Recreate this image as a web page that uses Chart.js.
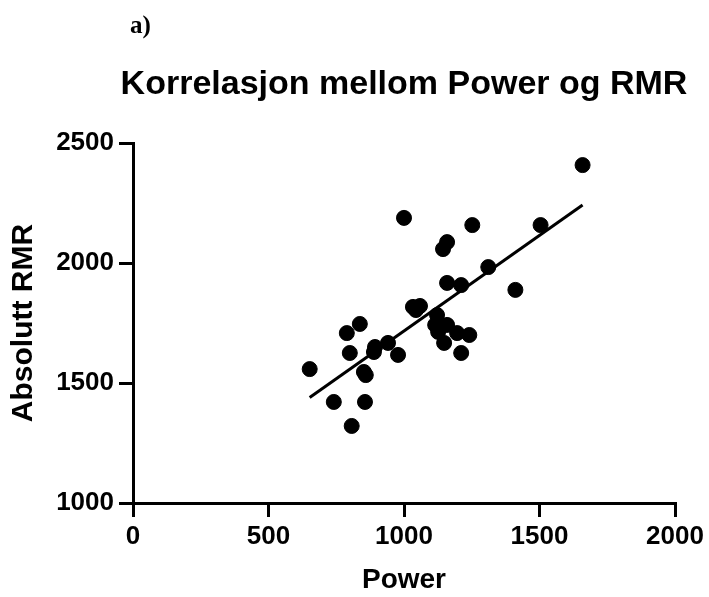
<!DOCTYPE html>
<html>
<head>
<meta charset="utf-8">
<script src="https://cdn.jsdelivr.net/npm/chart.js@4.4.1/dist/chart.umd.min.js"></script>
<style>
  html, body { margin: 0; padding: 0; background: #fff; }
  #wrap { width: 709px; height: 597px; position: relative; }
</style>
</head>
<body>
<div id="wrap"><canvas id="chart"></canvas></div>
<script>
  // Power vs absolute RMR
  const powerValues = [652, 741, 807, 789, 800, 837, 852, 859, 856, 893, 889, 941, 978, 1000,
    1033, 1059, 1044, 1144, 1159, 1159, 1211, 1252, 1311, 1411, 1504, 1659,
    1122, 1115, 1126, 1159, 1148, 1196, 1241, 1211];
  const rmrValues = [1558, 1421, 1321, 1708, 1625, 1746, 1546, 1533, 1421, 1650, 1629, 1667, 1617, 2188,
    1817, 1821, 1804, 2058, 2087, 1917, 1908, 2158, 1983, 1888, 2158, 2408,
    1783, 1742, 1713, 1742, 1667, 1708, 1700, 1625];

  // fitted line end points
  const fitPower = [652, 1659];
  const fitRmr = [1440, 2242];

  const xTicks = [0, 500, 1000, 1500, 2000];
  const yTicks = [1000, 1500, 2000, 2500];

  const chartTitle = 'Korrelasjon mellom Power og RMR';
  const panelLabel = 'a)';

  const points = powerValues.map((p, i) => ({ x: p, y: rmrValues[i] }));
  const fitLine = fitPower.map((p, i) => ({ x: p, y: fitRmr[i] }));

  const FONT = '"Liberation Sans", Arial, sans-serif';

  // title and panel letter sit above the plot
  const headerPlugin = {
    id: 'header',
    afterDraw(chart) {
      const ctx = chart.ctx;
      const area = chart.chartArea;
      ctx.save();
      ctx.fillStyle = '#000';
      ctx.textBaseline = 'alphabetic';
      ctx.textAlign = 'center';
      ctx.font = 'bold 34px ' + FONT;
      ctx.fillText(chartTitle, (area.left + area.right) / 2, 94);
      ctx.textAlign = 'left';
      ctx.font = 'bold 25px "Liberation Serif", "Times New Roman", serif';
      ctx.fillText(panelLabel, 130, 33);
      ctx.restore();
    }
  };

  const ctx = document.getElementById('chart').getContext('2d');
  new Chart(ctx, {
    data: {
      datasets: [
        {
          type: 'scatter',
          data: points,
          backgroundColor: '#000',
          borderColor: '#000',
          pointRadius: 7.5,
          pointHoverRadius: 7.5
        },
        {
          type: 'line',
          data: fitLine,
          borderColor: '#000',
          borderWidth: 3,
          pointRadius: 0,
          fill: false
        }
      ]
    },
    options: {
      responsive: true,
      maintainAspectRatio: false,
      animation: false,
      layout: { padding: { top: 143, right: 34, left: 0, bottom: 0 } },
      plugins: {
        legend: { display: false },
        tooltip: { enabled: false }
      },
      scales: {
        x: {
          type: 'linear',
          min: 0,
          max: 2000,
          afterBuildTicks: scale => { scale.ticks = xTicks.map(v => ({ value: v })); },
          afterFit: scale => { scale.height = 94; },
          border: { color: '#000', width: 3 },
          grid: { drawOnChartArea: false, drawTicks: true, tickLength: 14, color: '#000', lineWidth: 3 },
          ticks: {
            color: '#000',
            padding: 4,
            callback: v => String(v),
            font: { family: FONT, size: 26, weight: 'bold' }
          },
          title: {
            display: true,
            text: 'Power',
            color: '#000',
            padding: { top: 4, bottom: 0 },
            font: { family: FONT, size: 28, weight: 'bold' }
          }
        },
        y: {
          type: 'linear',
          min: 1000,
          max: 2500,
          afterBuildTicks: scale => { scale.ticks = yTicks.map(v => ({ value: v })); },
          afterFit: scale => { scale.width = 133; },
          border: { color: '#000', width: 3 },
          grid: { drawOnChartArea: false, drawTicks: true, tickLength: 14, color: '#000', lineWidth: 3 },
          ticks: {
            color: '#000',
            padding: 5,
            callback: v => String(v),
            font: { family: FONT, size: 26, weight: 'bold' }
          },
          title: {
            display: true,
            text: 'Absolutt RMR',
            color: '#000',
            padding: { top: 6, bottom: 0 },
            font: { family: FONT, size: 30, weight: 'bold' }
          }
        }
      }
    },
    plugins: [headerPlugin]
  });
</script>
</body>
</html>
